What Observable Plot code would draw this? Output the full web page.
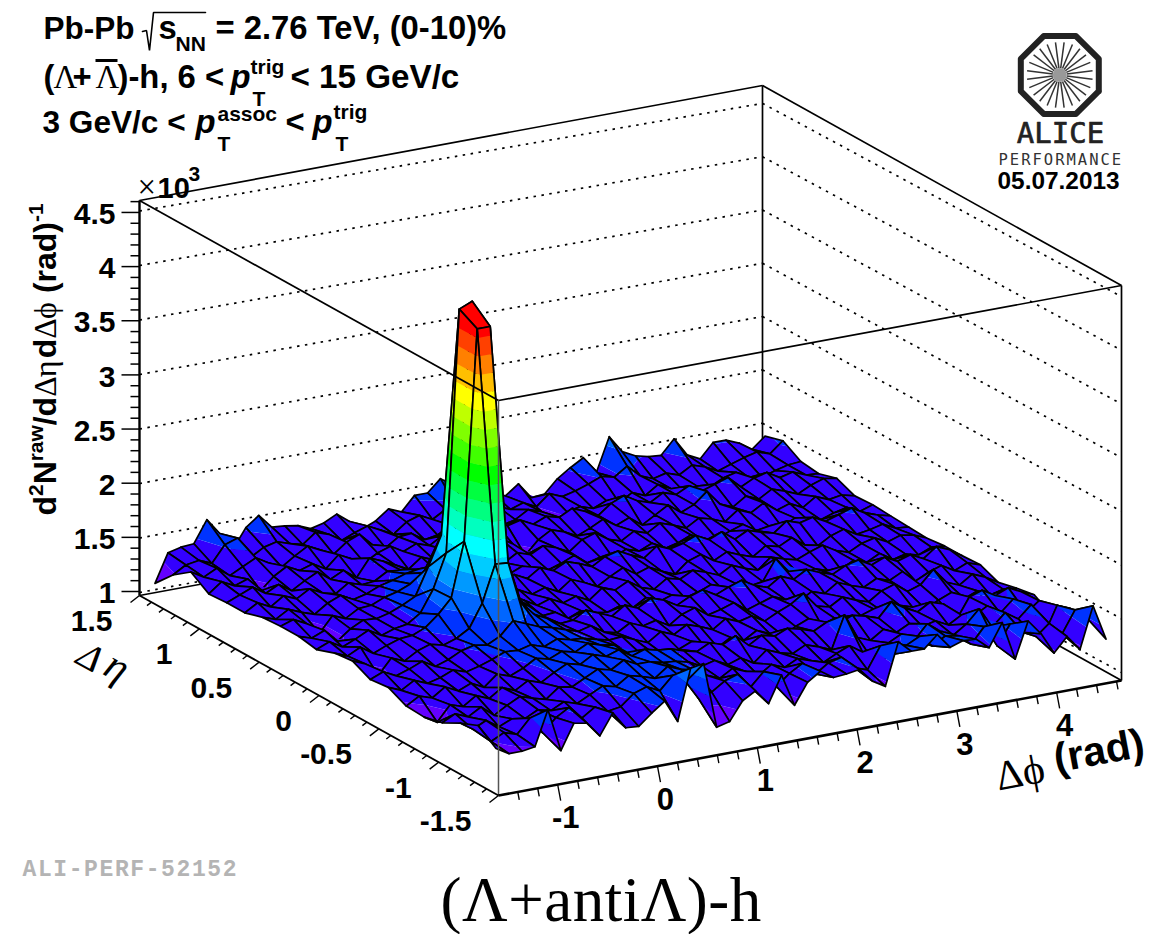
<!DOCTYPE html>
<html><head><meta charset="utf-8">
<script src="https://cdn.jsdelivr.net/npm/d3@7"></script>
<script src="https://cdn.jsdelivr.net/npm/@observablehq/plot@0.6"></script>
<style>html,body{margin:0;padding:0;background:#fff}svg{display:block}</style>
</head><body><div id="chart"></div>
<script>
// Surface heights, unit 10 counts (137 = 1.37 x 10^3). One row per delta-eta bin, one value per delta-phi bin.
const eta00=[133,126,126,128,160,120,143,141,127,146,130,129,139,148,127,174,176,115,118,135,142,128,152,122,141,149,141,142,144,131,124,163,152,152,163,149,153,152,142,163,127,160,146,126,139,125,163,130];
const eta01=[145,128,134,130,143,127,139,146,134,142,136,138,148,152,146,158,150,132,136,144,148,134,146,130,140,147,135,143,146,134,130,150,140,146,152,141,148,146,136,150,130,148,138,132,142,130,150,139];
const eta02=[138,130,136,128,133,131,137,134,140,136,142,148,145,153,150,146,155,150,147,140,135,142,137,131,139,134,140,136,132,138,143,135,122,139,145,137,150,141,135,143,155,136,147,139,150,120,145,140];
const eta03=[129,135,130,137,127,134,140,136,133,142,140,146,152,149,156,150,150,147,146,143,137,140,134,138,131,141,136,133,139,135,130,160,137,132,140,135,141,136,139,133,140,137,144,135,146,131,140,124];
const eta04=[125,118,132,128,136,131,139,134,141,137,144,150,147,154,150,154,146,150,147,146,142,139,145,141,147,136,143,140,145,142,138,144,141,146,143,139,152,144,138,145,141,124,143,147,140,145,139,134];
const eta05=[126,133,129,137,131,136,130,140,136,141,148,145,150,147,153,149,147,138,135,133,128,132,137,130,127,134,129,136,131,127,133,138,130,134,128,132,136,129,135,131,127,133,138,130,135,129,132,131];
const eta06=[134,129,136,131,134,139,135,138,142,147,146,149,145,150,147,146,143,140,141,136,131,139,134,141,137,132,140,135,138,131,137,142,150,136,133,140,135,131,139,143,134,138,150,136,131,139,134,127];
const eta07=[132,137,131,135,140,133,137,143,146,144,150,162,157,152,149,145,141,144,136,133,140,135,138,131,139,143,134,137,141,132,136,140,135,131,138,134,142,137,133,139,135,141,130,136,140,133,138,134];
const eta08=[140,135,122,136,131,138,142,139,143,150,171,205,204,165,152,146,139,140,147,142,137,145,140,147,143,136,142,146,139,144,148,141,137,145,140,147,142,138,144,147,140,145,139,143,137,146,141,133];
const eta09=[138,133,139,131,136,140,141,146,156,169,219,413,413,167,154,148,137,138,130,135,131,129,133,129,136,130,134,129,132,137,129,133,129,131,150,136,129,134,130,129,135,131,137,129,132,129,134,133];
const eta10=[132,137,130,135,141,134,138,140,148,168,199,422,427,182,160,149,142,135,139,133,137,131,140,136,142,134,130,138,135,141,137,132,139,134,130,140,136,133,138,142,135,131,137,140,134,138,136,131];
const eta11=[135,131,136,124,133,139,138,141,146,152,177,204,198,172,155,147,136,140,134,138,132,141,136,130,137,143,135,139,133,128,138,142,134,140,135,131,139,136,142,133,130,137,141,134,136,139,133,132];
const eta12=[135,139,133,122,136,131,138,139,144,147,152,160,165,158,150,146,140,139,143,137,145,140,146,142,137,144,147,141,136,145,140,143,148,142,147,138,144,140,137,146,142,145,139,143,147,140,136,133];
const eta13=[134,130,137,132,128,136,141,135,138,143,146,150,152,148,144,138,134,134,129,132,137,130,129,133,138,129,132,129,135,131,136,129,132,137,129,129,134,138,130,132,129,135,131,129,133,136,130,134];
const eta14=[129,136,130,138,133,140,134,131,139,135,136,143,142,138,137,132,140,135,141,136,131,138,134,140,136,130,139,143,135,131,138,134,141,137,132,139,136,131,140,135,142,133,137,131,139,134,136,133];
const eta15=[129,134,139,131,137,129,136,142,133,139,130,146,141,135,129,138,133,140,134,128,139,142,135,122,134,141,137,131,136,142,134,139,130,137,144,135,140,150,136,131,139,134,141,137,132,138,142,140];
const eta16=[128,137,131,135,122,133,140,134,138,131,142,136,130,137,141,134,139,135,142,147,141,134,146,140,143,137,142,139,145,140,134,143,148,141,137,144,140,146,139,143,147,136,142,145,138,141,136,135];
const eta17=[139,132,138,129,135,141,134,128,136,143,137,131,140,145,133,128,136,137,129,131,138,133,129,135,129,132,139,135,122,130,133,129,134,130,137,132,140,134,129,132,129,135,138,131,129,133,136,137];
const eta18=[127,134,136,131,146,150,130,137,140,136,133,142,138,130,135,139,133,127,136,140,134,141,138,143,147,135,130,134,128,138,133,136,140,145,142,150,139,134,137,133,140,136,130,134,138,141,137,147];
const eta19=[110,136,139,140,160,145,128,146,155,142,141,139,134,137,143,134,125,130,139,134,147,147,158,150,146,140,136,131,140,125,126,138,146,153,137,168,152,146,143,142,155,138,132,145,145,140,132,142];
const rows=[eta00,eta01,eta02,eta03,eta04,eta05,eta06,eta07,eta08,eta09,eta10,eta11,eta12,eta13,eta14,eta15,eta16,eta17,eta18,eta19];
rows.forEach((r,k)=>{if(r.length!==48)throw new Error("row "+k+" has "+r.length)});

const zTicks=[1,1.5,2,2.5,3,3.5,4,4.5];
const zTickLabels=["1","1.5","2","2.5","3","3.5","4","4.5"];
const phiTicks=[-1,0,1,2,3,4];
const etaTicks=[-1.5,-1,-0.5,0,0.5,1,1.5];
const etaTickLabels=["-1.5","-1","-0.5","0","0.5","1","1.5"];
const levels=[1.116,1.279,1.442,1.605,1.768,1.931,2.094,2.257,2.42,2.583,2.746,2.909,3.072,3.235,3.398,3.561,3.724,3.887,4.05];
const bandColors=["#7a00ff","#6400ff","#3300ff","#0033ff","#0066ff","#0099ff","#00ccff","#00ffff","#00ffbf","#00ff80","#00ff40","#00ff00","#40ff00","#80ff00","#bfff00","#ffff00","#ffbf00","#ff8000","#ff4000","#ff0000"];

// Oblique projection of the 3D box
const phi0=-1.593, phi1=4.65, eta0=-1.5, eta1=1.5, z0=0.953, z1=4.6;
const origin=[498,795], phiVec=[623,-115], etaVec=[-359,-200], zUnit=108.3;
function P(phi,eta,z){
  const a=(phi-phi0)/(phi1-phi0), b=(eta-eta0)/(eta1-eta0);
  return [origin[0]+a*phiVec[0]+b*etaVec[0], origin[1]+a*phiVec[1]+b*etaVec[1]-(z-z0)*zUnit];
}
const nPhi=48,nEta=20;
const phiC=i=>phi0+(i+.5)*(phi1-phi0)/nPhi, etaC=k=>eta0+(k+.5)*(eta1-eta0)/nEta;
const node=(i,k)=>{const z=rows[k][i]/100,[x,y]=P(phiC(i),etaC(k),z);return {x,y,z}};
function clip(poly,lim,keepAbove){
  const out=[];const inside=p=>keepAbove?p.z>=lim:p.z<=lim;
  poly.forEach((p,n)=>{const q=poly[(n+1)%poly.length];
    if(inside(p))out.push(p);
    if(inside(p)!==inside(q)){const t=(lim-p.z)/(q.z-p.z);out.push({x:p.x+t*(q.x-p.x),y:p.y+t*(q.y-p.y),z:lim});}
  });
  return out;
}
const surf=[];let id=0;
for(let k=nEta-2;k>=0;k--)for(let i=nPhi-2;i>=0;i--){
  const q=[node(i,k),node(i+1,k),node(i+1,k+1),node(i,k+1)];
  const zs=q.map(d=>d.z),lo=d3.min(zs),hi=d3.max(zs);
  const edges=[-Infinity,...levels,Infinity];
  for(let b=0;b<edges.length-1;b++){
    if(edges[b+1]<=lo||edges[b]>=hi)continue;
    let p=q;
    if(edges[b]>lo)p=clip(p,edges[b],true);
    if(edges[b+1]<hi)p=clip(p,edges[b+1],false);
    if(p.length<3)continue;
    const v=(Math.max(edges[b],lo)+Math.min(edges[b+1],hi))/2;
    id++;p.forEach(d=>surf.push({x:d.x,y:d.y,id,v,s:"none"}));
  }
  id++;[...q,q[0]].forEach(d=>surf.push({x:d.x,y:d.y,id,v:null,s:"#000"}));
}

// Dotted walls: height lines run left edge -> back corner -> right edge
const wallHeights=[1,1.5,2,2.5,3,3.5,4,4.5];
const wall=z=>({z,lx:P(phi0,eta1,z0)[0],ly:592-109*(z-1),bx:P(phi1,eta1,z0)[0],by:476-106.6*(z-1),rx:P(phi1,eta0,z0)[0],ry:672-107.4*(z-1)});
const walls=wallHeights.map(wall);

const link=(a,b,o={})=>Plot.link([0],{x1:()=>a[0],y1:()=>a[1],x2:()=>b[0],y2:()=>b[1],stroke:"#000",strokeWidth:1.7,...o});
const LB=P(phi0,eta1,z0),LT=P(phi0,eta1,z1),FB=P(phi0,eta0,z0),FT=P(phi0,eta0,z1),RB=P(phi1,eta0,z0),RT=P(phi1,eta0,z1),BB=P(phi1,eta1,z0),BT=P(phi1,eta1,z1);

// tick helpers
const seq=(a,b,s)=>d3.range(Math.round((b-a)/s)+1).map(n=>+(a+n*s).toFixed(3));
const zMinor=seq(1,4.6,0.1), phiMinor=seq(-1.4,4.6,0.2), etaMinor=seq(-1.5,1.5,0.1);
const zY=z=>591-108.3*(z-1);
const isIn=(arr,v)=>arr.some(a=>Math.abs(a-v)<1e-6);

// text helper: x,y is the baseline start, rot in degrees
function label(list,o={}){
  const up=d=>{const r=(d.rot||0)*Math.PI/180;return [Math.sin(r)*.32*d.size,-Math.cos(r)*.32*d.size]};
  return Plot.text(list,{x:d=>d.x+up(d)[0],y:d=>d.y+up(d)[1],text:d=>d.t,fontSize:d=>d.size,rotate:d=>d.rot||0,textAnchor:"start",fill:"#000",...o});
}
const S="Liberation Sans",F="Liberation Serif";
const T=32.8,Sm=21;
const titleBold=[
 {t:"Pb-Pb",x:43,y:38,size:31.5},{t:"s",x:158,y:38,size:T},{t:"NN",x:175,y:50,size:Sm},{t:"= 2.76 TeV, (0-10)%",x:215,y:38,size:T},
 {t:"(",x:43,y:87,size:T},{t:"+",x:72,y:87,size:T},{t:")-h, 6 <",x:117,y:87,size:T},{t:"trig",x:250,y:73,size:Sm},{t:"T",x:252,y:105,size:Sm},{t:"< 15 GeV/c",x:290,y:87,size:33.2},
 {t:"3 GeV/c <",x:42,y:132,size:31.6},{t:"assoc",x:217,y:120,size:Sm},{t:"T",x:217,y:150,size:Sm},{t:"<",x:285,y:132,size:T},{t:"trig",x:333,y:118,size:Sm},{t:"T",x:335,y:150,size:Sm},
 {t:"10",x:157,y:197,size:29},{t:"3",x:188,y:180,size:Sm},
 {t:"05.07.2013",x:997,y:188,size:24.4},
 {t:"d",x:55,y:515,size:32,rot:-90},{t:"2",x:42,y:495.5,size:21,rot:-90},{t:"N",x:55,y:483.8,size:32,rot:-90},{t:"raw",x:42,y:460.8,size:21,rot:-90},{t:"/d",x:55,y:424.8,size:32,rot:-90},{t:"d",x:55,y:357.7,size:32,rot:-90},{t:"(rad)",x:55,y:292.6,size:32,rot:-90},{t:"-1",x:42,y:221.5,size:21,rot:-90},
 {t:"(rad)",x:1056,y:772,size:41,rot:-10.5}
];
const titleItalic=[{t:"p",x:230,y:87,size:T},{t:"p",x:195,y:132,size:T},{t:"p",x:312,y:132,size:T}];
const serifReg=[
 {t:"\u039B",x:53,y:87,size:T},{t:"\u039B",x:95,y:87,size:T},{t:"\u00D7",x:137,y:197,size:T},
 {t:"\u0394",x:55,y:396.3,size:32,rot:-90},{t:"\u03B7",x:55,y:376.7,size:32,rot:-90},{t:"\u0394",x:55,y:338.2,size:32,rot:-90},{t:"\u03D5",x:55,y:318.6,size:32,rot:-90},
 {t:"\u0394\u03D5",x:998,y:790,size:42,rot:-10.5}
];
const serifItalic=[{t:"\u0394",x:74,y:662,size:38,rot:29},{t:"\u03B7",x:101,y:673,size:42,rot:29}];
const bottomTitle=[{t:"(\u039B+anti\u039B)-h",x:440,y:920,size:63}];
const radicalPath=[[142,31],[146,30],[149,50],[153,12],[205,12]].map(([x,y])=>({x,y}));

// ALICE logo
const logoC=[1059.3,74.5];
const octagon=d3.range(9).map(n=>{const a=(22.5+45*n)*Math.PI/180;return {x:logoC[0]+42.2*Math.cos(a),y:logoC[1]+42.2*Math.sin(a)}});
const spokes=d3.range(24).map(n=>{const a=(7.5+15*n)*Math.PI/180;return {a}});

const chart=Plot.plot({
 width:1165,height:934,margin:0,
 style:{background:"#fff",overflow:"visible"},
 x:{domain:[0,1165],range:[0,1165],axis:null},
 y:{domain:[0,934],range:[0,934],axis:null},
 color:{type:"threshold",domain:levels,range:bandColors,unknown:"none"},
 marks:[
  // back walls
  Plot.link(walls,{x1:"lx",y1:"ly",x2:"bx",y2:"by",stroke:"#000",strokeWidth:1.7,strokeDasharray:"2.5 5.5"}),
  Plot.link(walls,{x1:"bx",y1:"by",x2:"rx",y2:"ry",stroke:"#000",strokeWidth:1.7,strokeDasharray:"2.5 5.5"}),
  link(LB,BB),link(BB,RB),link(LT,BT),link(BT,RT),link(BB,BT),link(RB,RT),
  // surface, painted from the far corner to the near corner
  Plot.line(surf,{x:"x",y:"y",z:"id",fill:"v",stroke:"s",strokeWidth:1.7,strokeLinejoin:"round"}),
  // front box edges over the surface
  link(LT,FT),link(FT,RT),link(FT,FB,{stroke:"#555",strokeWidth:1.5}),
  // z axis
  link(LB,LT,{strokeWidth:2.4}),
  Plot.link(zMinor,{x1:()=>LB[0],x2:z=>LB[0]-(isIn(zTicks,z)?18:9),y1:zY,y2:zY,stroke:"#000",strokeWidth:1.5}),
  Plot.text(zTicks,{x:()=>115,y:zY,dy:2,text:(d,i)=>zTickLabels[i],textAnchor:"end",fontSize:30,fontWeight:"bold",fontFamily:S,fill:"#000"}),
  // eta axis
  link(LB,FB,{strokeWidth:1.8}),
  Plot.link(etaMinor,{x1:e=>P(phi0,e,z0)[0],y1:e=>P(phi0,e,z0)[1],x2:e=>P(phi0,e,z0)[0]-(isIn(etaTicks,e)?9:4.5),y2:e=>P(phi0,e,z0)[1]+(isIn(etaTicks,e)?7:3.5),stroke:"#000",strokeWidth:1.4}),
  Plot.text(etaTicks,{x:e=>P(phi0,e,z0)[0]-27,y:e=>P(phi0,e,z0)[1],dy:26,text:(d,i)=>etaTickLabels[i],textAnchor:"end",fontSize:30,fontWeight:"bold",fontFamily:S,fill:"#000"}),
  // phi axis
  link(FB,RB,{strokeWidth:2.6}),
  Plot.link(phiMinor,{x1:p=>P(p,eta0,z0)[0],y1:p=>P(p,eta0,z0)[1],x2:p=>P(p,eta0,z0)[0]+(isIn(phiTicks,p)?3:1.5),y2:p=>P(p,eta0,z0)[1]+(isIn(phiTicks,p)?16:8),stroke:"#000",strokeWidth:1.4}),
  Plot.text(phiTicks,{x:p=>P(p,eta0,z0)[0]+8,y:p=>P(p,eta0,z0)[1],dy:33.7,text:p=>String(p),textAnchor:"middle",fontSize:31,fontWeight:"bold",fontFamily:S,fill:"#000"}),
  // texts
  label(titleBold,{fontFamily:S,fontWeight:"bold"}),
  label(titleItalic,{fontFamily:S,fontWeight:"bold",fontStyle:"italic"}),
  label(serifReg,{fontFamily:F}),
  label(serifItalic,{fontFamily:F,fontStyle:"italic"}),
  label(bottomTitle,{fontFamily:F}),
  Plot.line(radicalPath,{x:"x",y:"y",stroke:"#000",strokeWidth:1.6,strokeLinejoin:"miter"}),
  link([95,60],[117,60],{strokeWidth:3}),
  // watermark
  Plot.text(["ALI-PERF-52152"],{x:()=>22,y:()=>868,textAnchor:"start",fontFamily:"Liberation Mono",fontWeight:"bold",fontSize:23,fill:"#b4b4b4"}),
  // logo
  Plot.line(octagon,{x:"x",y:"y",stroke:"#222",strokeWidth:6}),
  Plot.link(spokes,{x1:d=>logoC[0]+7*Math.cos(d.a),y1:d=>logoC[1]+7*Math.sin(d.a),x2:d=>logoC[0]+33*Math.cos(d.a),y2:d=>logoC[1]+33*Math.sin(d.a),stroke:"#333",strokeWidth:1.5}),
  Plot.dot([0],{x:()=>logoC[0],y:()=>logoC[1],r:7,fill:"#999"}),
  Plot.text(["ALICE"],{x:()=>1060,y:()=>133,textAnchor:"middle",fontFamily:"DejaVu Sans Mono",fontSize:29,fill:"#222",stroke:"#222",strokeWidth:0.7}),
  Plot.text(["PERFORMANCE"],{x:()=>998,y:()=>160,textAnchor:"start",fontFamily:"DejaVu Sans Mono",fontSize:15.5,fill:"#333"})
 ]
});
document.getElementById("chart").appendChild(chart);
d3.select(chart).selectAll("text").each(function(){
  const t=this.textContent;
  if(t==="ALI-PERF-52152")d3.select(this).style("letter-spacing","1.6px");
  if(t==="PERFORMANCE")d3.select(this).style("letter-spacing","2px");
  if(t==="(\u039B+anti\u039B)-h")d3.select(this).style("letter-spacing","0.5px");
});
</script></body></html>
